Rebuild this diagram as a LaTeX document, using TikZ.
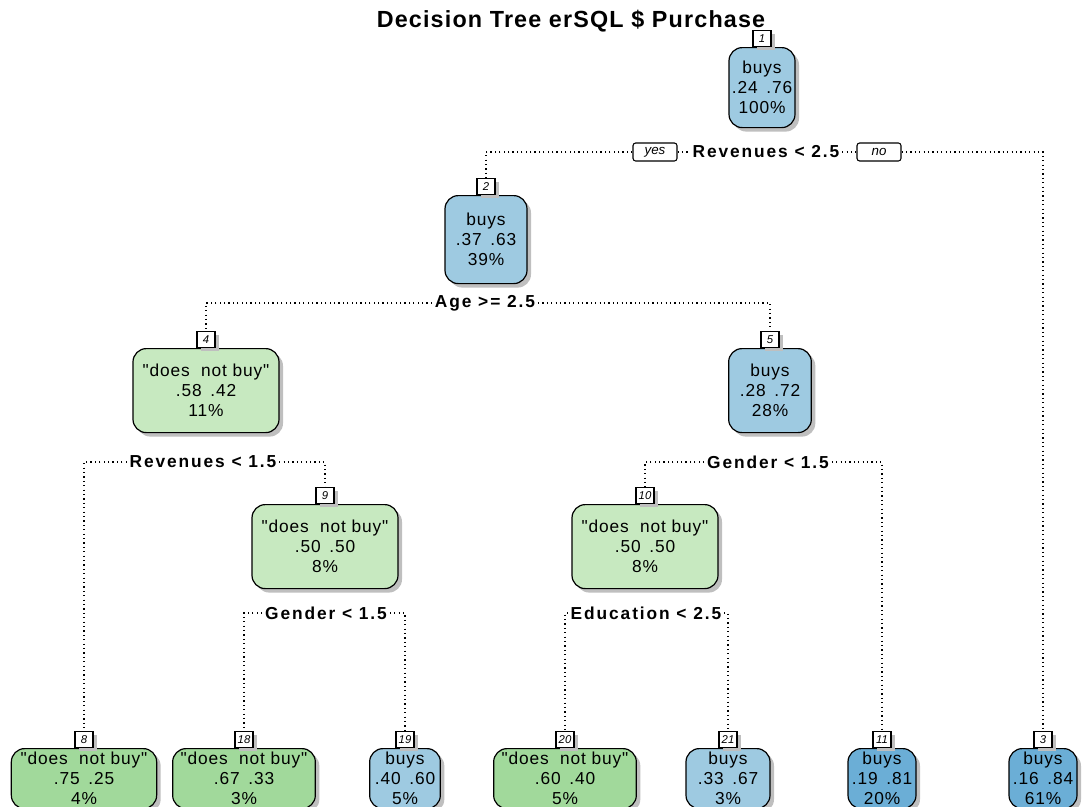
\documentclass[tikz,border=0pt]{standalone}
\usepackage{fontspec}
\setmainfont{Liberation Sans}
\newfontfamily\treefont[LetterSpace=5]{Liberation Sans}
\newfontfamily\splitfont[LetterSpace=11]{Liberation Sans}
\usetikzlibrary{shadows,positioning}
\definecolor{bluelight}{HTML}{9ECAE1}
\definecolor{bluedark}{HTML}{6BAED6}
\definecolor{greenlight}{HTML}{C7E9C0}
\definecolor{greendark}{HTML}{A1D99B}
\tikzset{
  treenode/.style={draw, line width=0.9pt, rounded corners=10pt, anchor=north, align=center,
    inner sep=0pt, font=\treefont\fontsize{13}{15}\selectfont,
    drop shadow={shadow xshift=3pt, shadow yshift=-3pt, fill=black!25, opacity=1}},
  leaf/.style={treenode, minimum height=45pt},
  numbox/.style={draw, line width=0.8pt, fill=white, minimum width=13.5pt, minimum height=12pt,
    inner sep=1pt, font=\itshape\fontsize{8.5}{9}\selectfont,
    drop shadow={shadow xshift=3pt, shadow yshift=-3pt, fill=black!25, opacity=1}},
  yesno/.style={draw, line width=0.8pt, rounded corners=2pt, fill=white, minimum width=33pt,
    minimum height=13.5pt, inner sep=1pt, font=\itshape\fontsize{10}{11}\selectfont},
  splitlabel/.style={font=\splitfont\bfseries\fontsize{13}{14}\selectfont, inner sep=2pt},
  link/.style={line width=0.9pt, dash pattern=on 0.9pt off 2.4pt}
}
\begin{document}
\begin{tikzpicture}[x=0.75pt, y=-0.75pt]
  \clip (0,0) rectangle (1090,807);
  % title
  \node[font=\treefont\bfseries\fontsize{17.5}{20}\selectfont] (title) at (571,21) {Decision Tree erSQL \$ Purchase};
  % tree nodes
  \node[treenode, fill=bluelight, minimum width=49.5pt, minimum height=60pt] (n1) at (762,47) {buys\\.24\enspace.76\\100\%};
  \node[treenode, fill=bluelight, minimum width=61.5pt, minimum height=66pt] (n2) at (486,195) {buys\\.37\enspace.63\\39\%};
  \node[treenode, fill=greenlight, minimum width=109.5pt, minimum height=63pt] (n4) at (206,348) {"does\ \ not buy"\\.58\enspace.42\\11\%};
  \node[treenode, fill=bluelight, minimum width=62pt, minimum height=63pt] (n5) at (770,348) {buys\\.28\enspace.72\\28\%};
  \node[treenode, fill=greenlight, minimum width=109.5pt, minimum height=63pt] (n9) at (325,504) {"does\ \ not buy"\\.50\enspace.50\\8\%};
  \node[treenode, fill=greenlight, minimum width=109.5pt, minimum height=63pt] (n10) at (645,504) {"does\ \ not buy"\\.50\enspace.50\\8\%};
  % leaves
  \node[leaf, fill=greendark, minimum width=109pt] (n8) at (84,748) {"does\ \ not buy"\\.75\enspace.25\\4\%};
  \node[leaf, fill=greendark, minimum width=107pt] (n18) at (244,748) {"does\ \ not buy"\\.67\enspace.33\\3\%};
  \node[leaf, fill=bluelight, minimum width=53pt] (n19) at (405,748) {buys\\.40\enspace.60\\5\%};
  \node[leaf, fill=greendark, minimum width=107pt] (n20) at (565,748) {"does\ \ not buy"\\.60\enspace.40\\5\%};
  \node[leaf, fill=bluelight, minimum width=63pt] (n21) at (728,748) {buys\\.33\enspace.67\\3\%};
  \node[leaf, fill=bluedark, minimum width=51pt] (n11) at (882,748) {buys\\.19\enspace.81\\20\%};
  \node[leaf, fill=bluedark, minimum width=51pt] (n3) at (1043,748) {buys\\.16\enspace.84\\61\%};
  % node numbers
  \foreach \n/\t in {n1/1, n2/2, n4/4, n5/5, n9/9, n10/10, n8/8, n18/18, n19/19, n20/20, n21/21, n11/11, n3/3} {
    \node[numbox, above=0pt of \n] (l\t) {\t};
  }
  % splits
  \node[yesno] (yes) at (655,152) {yes};
  \node[splitlabel] (s1) at (766,152) {Revenues < 2.5};
  \node[yesno] (no) at (879,152) {no};
  \node[splitlabel] (s2) at (485,303) {Age >= 2.5};
  \node[splitlabel] (s4) at (203,462) {Revenues < 1.5};
  \node[splitlabel] (s5) at (768,462) {Gender < 1.5};
  \node[splitlabel] (s9) at (326,613) {Gender < 1.5};
  \node[splitlabel] (s10) at (646,613) {Education < 2.5};
  % dotted links
  \draw[link] (yes.west) -| (l2.north);
  \draw[link] (yes.east) -- (s1.west);
  \draw[link] (s1.east) -- (no.west);
  \draw[link] (no.east) -| (l3.north);
  \foreach \s/\a/\b in {s2/l4/l5, s4/l8/l9, s5/l10/l11, s9/l18/l19, s10/l20/l21} {
    \draw[link] (\s.west) -| (\a.north);
    \draw[link] (\s.east) -| (\b.north);
  }
\end{tikzpicture}
\end{document}
